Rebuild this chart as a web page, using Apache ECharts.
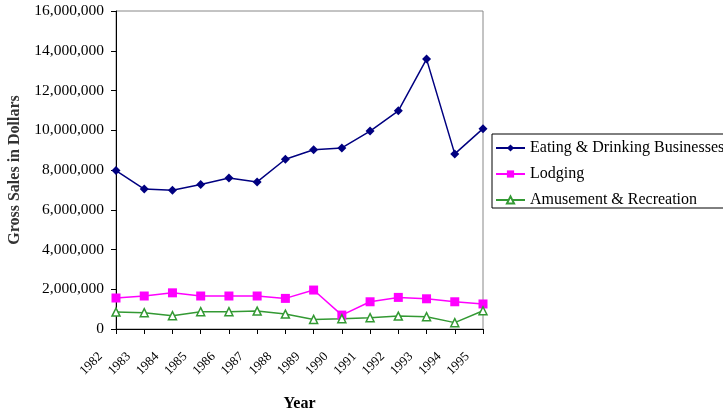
<!DOCTYPE html>
<html>
<head>
<meta charset="utf-8">
<script src="https://cdn.jsdelivr.net/npm/echarts@6/dist/echarts.min.js"></script>
<style>
html,body{margin:0;padding:0;background:#fff;}
#chart{width:723px;height:411px;}
</style>
</head>
<body>
<div id="chart"></div>
<script>
const years = ['1982','1983','1984','1985','1986','1987','1988','1989','1990','1991','1992','1993','1994','1995'];
const eatingDrinking = [7970000,7040000,6980000,7270000,7600000,7400000,8540000,9020000,9110000,9960000,10980000,13580000,8810000,10080000];
const lodging = [1560000,1660000,1820000,1660000,1660000,1660000,1540000,1960000,700000,1370000,1590000,1520000,1370000,1260000];
const amusement = [850000,820000,670000,870000,870000,900000,750000,480000,520000,570000,650000,620000,320000,920000];
const yTicks = {min:0, max:16000000, interval:2000000};

const serif = '"Liberation Serif", "DejaVu Serif", serif';
const chart = echarts.init(document.getElementById('chart'));
chart.setOption({
  animation:false,
  textStyle:{fontFamily:serif},
  grid:{left:116, right:240, top:11, bottom:82, show:true, borderColor:'#888', borderWidth:1,
        outerBoundsMode:'none', containLabel:false},
  legend:{
    left:492, top:134, orient:'vertical',
    itemWidth:29, itemHeight:9, itemGap:10,
    padding:[6,6,0,3],
    borderColor:'#000', borderWidth:1,
    textStyle:{fontFamily:serif, fontSize:16, color:'#000'},
    data:['Eating & Drinking Businesses','Lodging','Amusement & Recreation']
  },
  xAxis:{
    type:'category', data:years, boundaryGap:false,
    name:'Year', nameLocation:'middle', nameGap:67,
    nameTextStyle:{fontFamily:serif, fontSize:16, fontWeight:'bold', color:'#000'},
    axisLine:{lineStyle:{color:'#000', width:1}},
    axisTick:{show:true, length:5, lineStyle:{color:'#000'}},
    axisLabel:{rotate:45, fontSize:13, color:'#000', fontFamily:serif, margin:10, interval:0,
      padding:[0,22,0,0]},
    splitLine:{show:false}
  },
  yAxis:{
    type:'value', min:yTicks.min, max:yTicks.max, interval:yTicks.interval,
    name:'Gross Sales in Dollars', nameLocation:'middle', nameRotate:90, nameGap:90,
    nameTextStyle:{fontFamily:serif, fontSize:16, fontWeight:'bold', color:'#333'},
    axisLine:{show:true, lineStyle:{color:'#000', width:1}},
    axisTick:{show:true, length:5, lineStyle:{color:'#000'}},
    axisLabel:{fontSize:15.5, color:'#000', fontFamily:serif, margin:12,
      formatter:v=>v.toLocaleString('en-US')},
    splitLine:{show:false}
  },
  series:[
    {name:'Eating & Drinking Businesses', type:'line', data:eatingDrinking,
     symbol:'diamond', symbolSize:9, color:'#000080',
     lineStyle:{width:1.5, color:'#000080'}, itemStyle:{color:'#000080'}},
    {name:'Lodging', type:'line', data:lodging,
     symbol:'rect', symbolSize:9, color:'#ff00ff',
     lineStyle:{width:1.5, color:'#ff00ff'}, itemStyle:{color:'#ff00ff'}},
    {name:'Amusement & Recreation', type:'line', data:amusement,
     symbol:'triangle', symbolSize:8, color:'#339933',
     lineStyle:{width:1.5, color:'#339933'},
     itemStyle:{color:'#fff', borderColor:'#339933', borderWidth:1.5}}
  ]
});
</script>
</body>
</html>
